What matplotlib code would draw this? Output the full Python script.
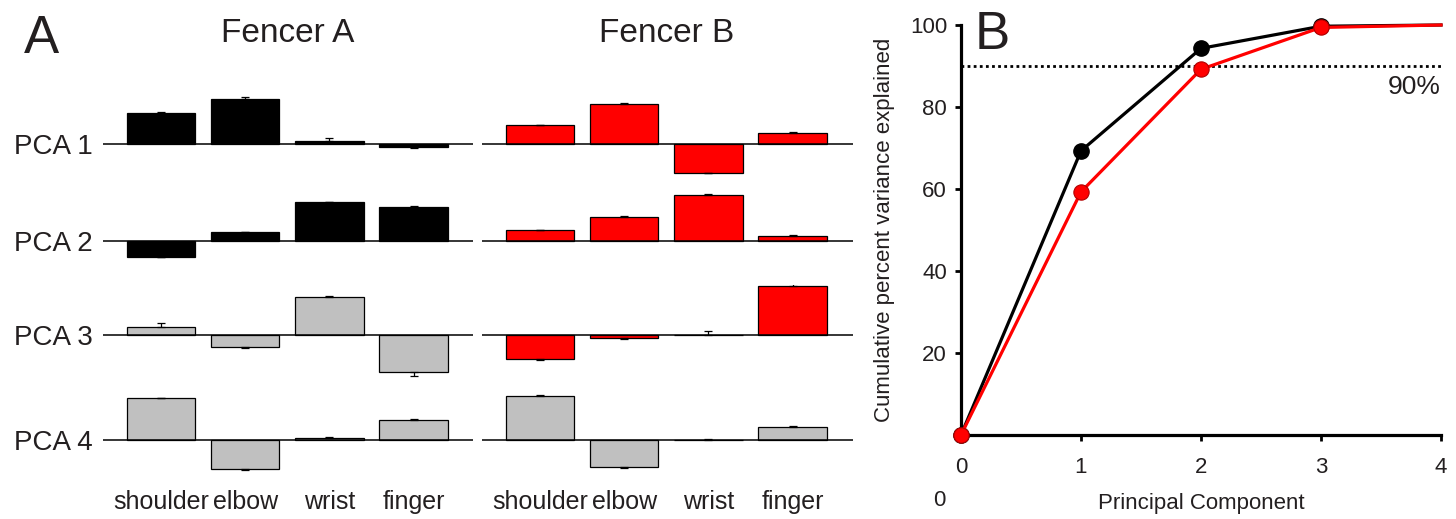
import matplotlib.pyplot as plt
import numpy as np

plt.rcParams['font.family'] = ['Liberation Sans', 'DejaVu Sans']
TXT = '#231f20'

joints = ['shoulder', 'elbow', 'wrist', 'finger']
pcs = ['PCA 1', 'PCA 2', 'PCA 3', 'PCA 4']

# PCA loadings per joint (rows = PCA 1..4)
fencer_a = [[0.63, 0.90, 0.07, -0.06],
            [-0.31, 0.18, 0.78, 0.69],
            [0.16, -0.23, 0.77, -0.73],
            [0.84, -0.58, 0.05, 0.41]]
fencer_a_err = [[0.01, 0.05, 0.05, 0.02],
                [0.01, 0.01, 0.01, 0.01],
                [0.09, 0.02, 0.01, 0.08],
                [0.01, 0.01, 0.01, 0.01]]
fencer_b = [[0.38, 0.81, -0.57, 0.23],
            [0.22, 0.49, 0.93, 0.11],
            [-0.47, -0.05, 0.005, 0.99],
            [0.89, -0.54, 0.01, 0.27]]
fencer_b_err = [[0.01, 0.01, 0.01, 0.01],
                [0.01, 0.01, 0.01, 0.01],
                [0.02, 0.02, 0.08, 0.08],
                [0.01, 0.01, 0.01, 0.01]]
colors_a = ['black', 'black', '#c0c0c0', '#c0c0c0']
colors_b = ['#ff0000', '#ff0000', '#ff0000', '#c0c0c0']

# cumulative variance explained
pc = [0, 1, 2, 3, 4]
cum_a = [0, 69.3, 94.3, 99.7, 100]
cum_b = [0, 59.3, 89.2, 99.4, 100]

W, H = 1456, 519
fig = plt.figure(figsize=(W / 100, H / 100), dpi=100)

def rect(x0, y0, x1, y1):
    # pixel box (top-left origin) -> figure fraction
    return [x0 / W, 1 - y1 / H, (x1 - x0) / W, (y1 - y0) / H]

baselines = [144, 241, 335, 440]
x = np.arange(4)

for vals, errs, cols, (xl, xr), title in [
        (fencer_a, fencer_a_err, colors_a, (103, 473), 'Fencer A'),
        (fencer_b, fencer_b_err, colors_b, (482, 853), 'Fencer B')]:
    c0 = xl + 58
    step = 84.2
    for r, b in enumerate(baselines):
        ax = fig.add_axes(rect(xl, b - 50, xr, b + 50))
        ax.patch.set_alpha(0)
        v = np.array(vals[r])
        e = np.array(errs[r])
        ax.bar(x, v, width=0.81, color=cols[r], edgecolor='black', linewidth=0.9, zorder=2)
        lo = np.where(v < 0, e, 0)
        hi = np.where(v >= 0, e, 0)
        ax.errorbar(x, v, yerr=[lo, hi], fmt='none', ecolor='black',
                    elinewidth=0.9, capsize=3, capthick=0.9, zorder=3)
        ax.axhline(0, color='black', lw=1.1, zorder=4)
        ax.set_xlim(-(c0 - xl) / step, (xr - c0) / step)
        ax.set_ylim(-1, 1)
        ax.axis('off')
    fig.text((c0 + 1.5 * step) / W, 1 - 33 / H, title, fontsize=24,
             ha='center', va='center', color=TXT)
    for i, j in enumerate(joints):
        fig.text((c0 + i * step) / W, 10 / H, j, fontsize=18,
                 ha='center', va='baseline', color=TXT)

for lab, b in zip(pcs, baselines):
    fig.text(93 / W, 1 - b / H, lab, fontsize=20, ha='right',
             va='center_baseline', color=TXT)

fig.text(41 / W, 1 - 39 / H, 'A', fontsize=38, ha='center', va='center', color=TXT)

# panel B
axb = fig.add_axes(rect(961, 25, 1441, 435))
axb.plot(pc, cum_a, color='black', lw=2.3, zorder=3, clip_on=False)
axb.plot(pc[:4], cum_a[:4], 'o', color='black', ms=11, zorder=3, clip_on=False)
axb.plot(pc, cum_b, color='#ff0000', lw=2.3, zorder=4, clip_on=False)
axb.plot(pc[:4], cum_b[:4], 'o', color='#ff0000', mec='#b00000', mew=0.8,
         ms=11, zorder=4, clip_on=False)
axb.axhline(90, color='black', lw=2, ls=(0, (1, 1.2)), zorder=2)
axb.text(4, 85, '90%', fontsize=19, ha='right', va='center', color=TXT)
axb.set_xlim(0, 4)
axb.set_ylim(0, 100)
axb.set_xticks(pc)
axb.set_yticks([20, 40, 60, 80, 100])
for s in ['top', 'right']:
    axb.spines[s].set_visible(False)
for s in ['left', 'bottom']:
    axb.spines[s].set_linewidth(2.3)
axb.tick_params(axis='both', labelsize=16, labelcolor=TXT, width=2, length=4)
axb.tick_params(axis='x', pad=12)
axb.tick_params(axis='y', pad=6)
axb.set_xlabel('Principal Component', fontsize=16, color=TXT)
axb.set_ylabel('Cumulative percent variance explained', fontsize=16, color=TXT)
axb.xaxis.set_label_coords(0.5, -0.142)
axb.yaxis.set_label_coords(-0.137, 0.5)
fig.text(939 / W, 1 - 500 / H, '0', fontsize=16, ha='center', va='center', color=TXT)
fig.text(992 / W, 1 - 35 / H, 'B', fontsize=38, ha='center', va='center', color=TXT)

fig.savefig('out.png', dpi=100)
